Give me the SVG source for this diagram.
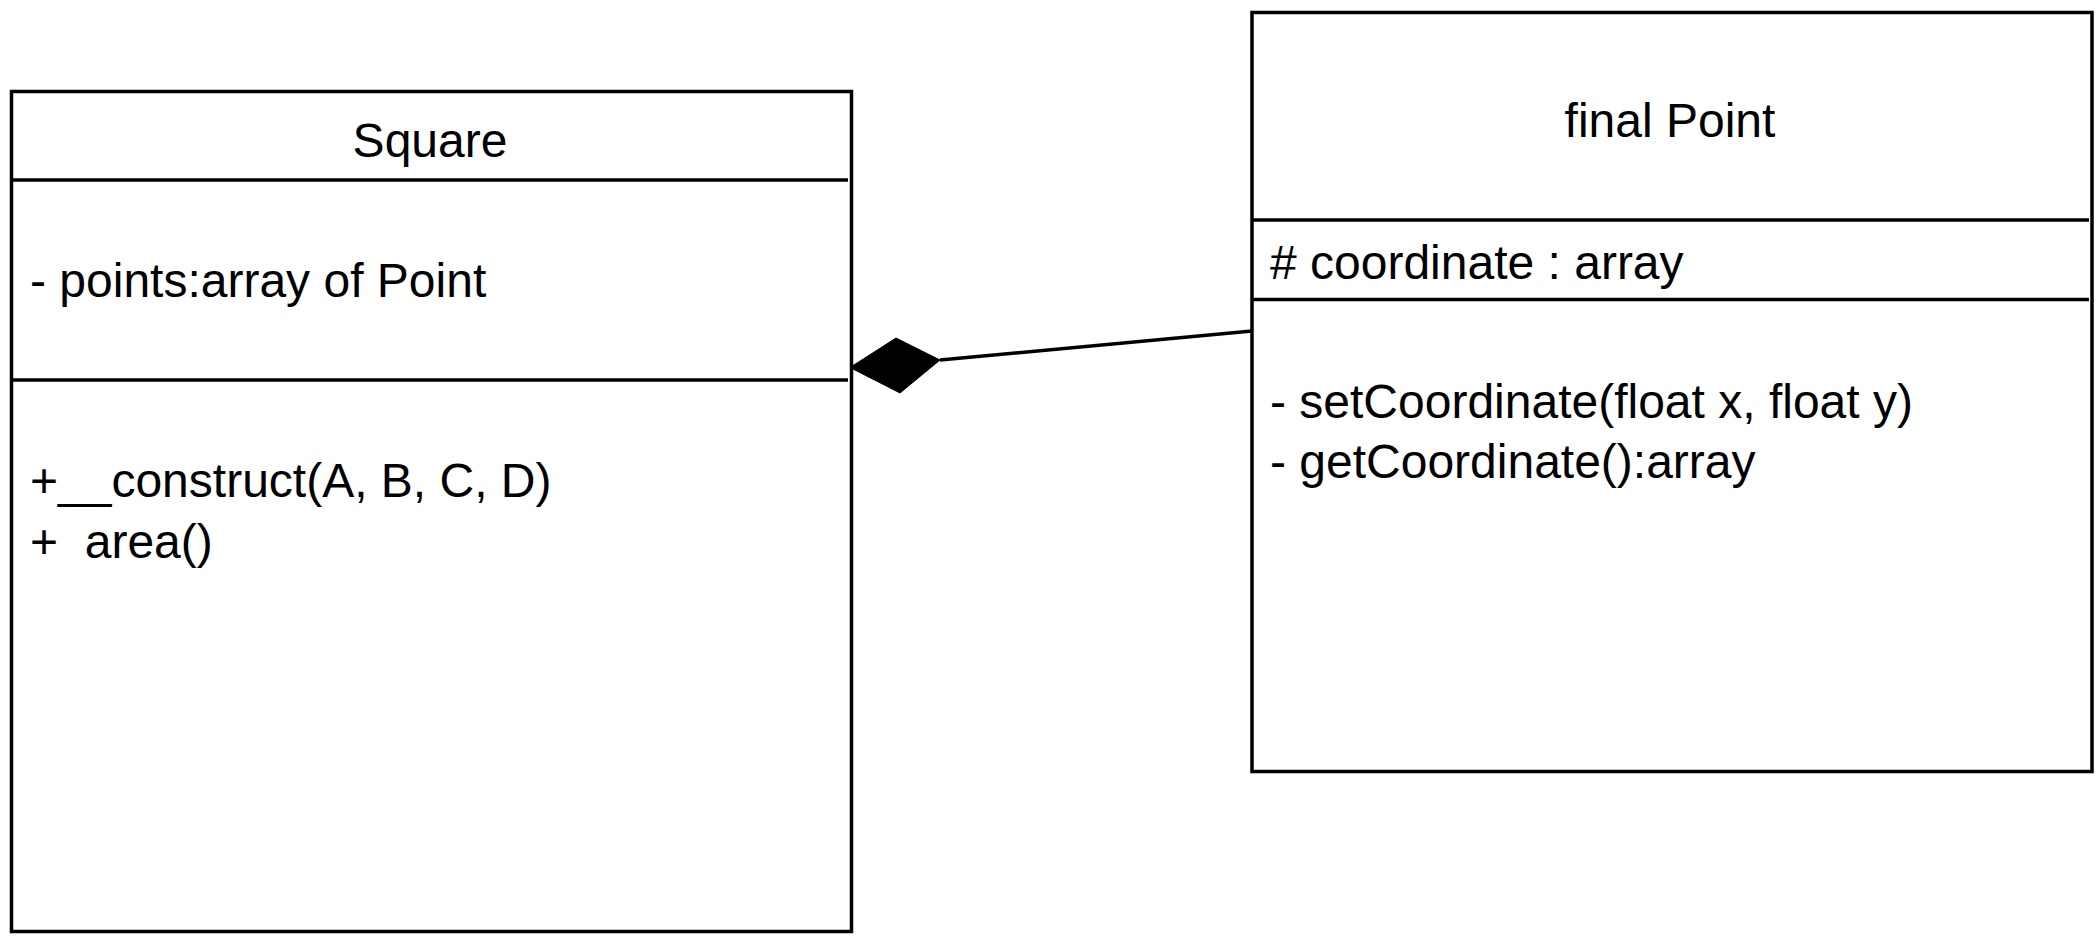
<svg xmlns="http://www.w3.org/2000/svg" width="2100" height="940" viewBox="0 0 2100 940">
<style>
.box{fill:#fff;stroke:#000;stroke-width:3.5}
.sep{stroke:#000;stroke-width:3.5;fill:none}
.t{font-family:"Liberation Sans",Arial,sans-serif;font-size:48px;fill:#000;white-space:pre}
.c{text-anchor:middle}
.conn{stroke:#000;stroke-width:3.5;fill:none}
</style>
<rect width="2100" height="940" fill="#fff"/>
<g id="connectors">
<line class="conn" x1="940" y1="360" x2="1252" y2="331"/>
<polygon points="850,367.5 896,338 940,360 900,393" fill="#000" stroke="#000" stroke-width="1"/>
</g>
<g id="square">
<rect class="box" x="11.5" y="91.5" width="840" height="840"/>
<line class="sep" x1="11.5" y1="180" x2="848" y2="180"/>
<line class="sep" x1="11.5" y1="380" x2="848" y2="380"/>
<text class="t c" x="430" y="157">Square</text>
<text class="t" x="30" y="297">- points:array of Point</text>
<text class="t" x="30" y="497" xml:space="preserve">+__construct(A, B, C, D)</text>
<text class="t" x="30" y="558" xml:space="preserve">+  area()</text>
</g>
<g id="point">
<rect class="box" x="1252" y="12.5" width="840" height="759"/>
<line class="sep" x1="1252" y1="220" x2="2089" y2="220"/>
<line class="sep" x1="1252" y1="299.5" x2="2089" y2="299.5"/>
<text class="t c" x="1670" y="137">final Point</text>
<text class="t" x="1270" y="279"># coordinate : array</text>
<text class="t" x="1270" y="418">- setCoordinate(float x, float y)</text>
<text class="t" x="1270" y="478">- getCoordinate():array</text>
</g>
</svg>
